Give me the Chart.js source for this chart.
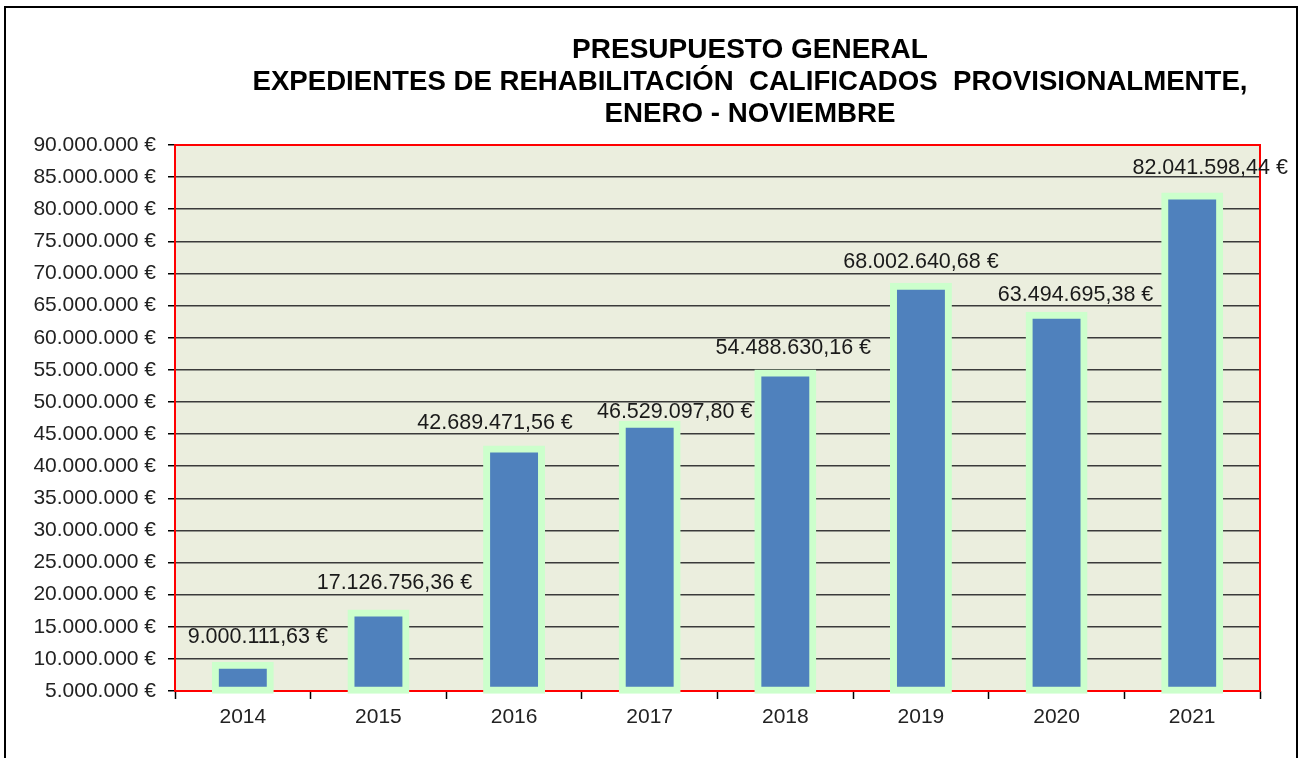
<!DOCTYPE html>
<html>
<head>
<meta charset="utf-8">
<script src="https://cdn.jsdelivr.net/npm/chart.js@4/dist/chart.umd.min.js"></script>
<style>
  html, body { margin: 0; padding: 0; background: #fff; overflow: hidden; }
  #wrap { position: relative; width: 1304px; height: 758px; }
  #frame { position: absolute; left: 4px; top: 6px; width: 1294px; height: 820px; border: 2px solid #000; box-sizing: border-box; }
  canvas { position: absolute; left: 0; top: 0; }
</style>
</head>
<body>
<div id="wrap">
  <div id="frame"></div>
  <canvas id="c" width="1304" height="758"></canvas>
</div>
<script>
// ---- data ----
const years = ['2014', '2015', '2016', '2017', '2018', '2019', '2020', '2021'];
const budget = [9000111.63, 17126756.36, 42689471.56, 46529097.80, 54488630.16, 68002640.68, 63494695.38, 82041598.44];
const titleLines = ['PRESUPUESTO GENERAL', 'EXPEDIENTES DE REHABILITACIÓN  CALIFICADOS  PROVISIONALMENTE,', 'ENERO - NOVIEMBRE'];
const yMin = 5000000, yMax = 90000000, yStep = 5000000;

// label placement tweaks (layout only), in px relative to bar top
const labelShift = [[15, 28], [16, 30], [-19, 26], [25, 12], [8, 25], [0, 24], [19, 20], [18, 28]];

function groupDots(n) {
  return String(n).replace(/\B(?=(\d{3})+(?!\d))/g, '.');
}
function euroInt(v) { return groupDots(Math.round(v)) + ' €'; }
function euroDec(v) {
  const cents = Math.round(v * 100);
  const ip = Math.floor(cents / 100);
  const dp = String(cents % 100).padStart(2, '0');
  return groupDots(ip) + ',' + dp + ' €';
}

const FONT = "'Liberation Sans', Arial, sans-serif";

const framePlugin = {
  id: 'framePlugin',
  beforeDraw(chart) {
    const { ctx, chartArea: a } = chart;
    ctx.save();
    ctx.fillStyle = '#EBEEDE';
    ctx.fillRect(a.left, a.top, a.right - a.left, a.bottom - a.top);
    ctx.restore();
    // title
    ctx.save();
    ctx.fillStyle = '#000';
    ctx.font = 'bold 28px ' + FONT;
    ctx.textAlign = 'center';
    ctx.textBaseline = 'alphabetic';
    const widths = [356, 995, 291];
    const bases = [58, 90, 122];
    titleLines.forEach((t, i) => {
      ctx.fillText(t, 750, bases[i], widths[i]);
    });
    ctx.restore();
  },
  beforeDatasetsDraw(chart) {
    const { ctx, chartArea: a } = chart;
    ctx.save();
    ctx.strokeStyle = '#FF0000';
    ctx.lineWidth = 2;
    ctx.strokeRect(a.left, a.top, a.right - a.left, a.bottom - a.top);
    ctx.restore();
  },
  afterDatasetsDraw(chart) {
    const { ctx } = chart;
    const meta = chart.getDatasetMeta(0);
    ctx.save();
    ctx.fillStyle = '#1a1a1a';
    ctx.font = '21.5px ' + FONT;
    ctx.textAlign = 'center';
    ctx.textBaseline = 'middle';
    meta.data.forEach((bar, i) => {
      const s = labelShift[i];
      ctx.fillText(euroDec(budget[i]), bar.x + s[0], bar.y - s[1]);
    });
    ctx.restore();
  }
};

new Chart(document.getElementById('c'), {
  type: 'bar',
  data: {
    labels: years,
    datasets: [{
      data: budget,
      base: yMin,
      backgroundColor: '#4F81BD',
      borderColor: '#CCFFCC',
      borderWidth: 7,
      borderSkipped: false,
      inflateAmount: 3.5,
      barPercentage: 0.405,
      categoryPercentage: 1,
      clip: 4
    }]
  },
  options: {
    responsive: false,
    animation: false,
    devicePixelRatio: 1,
    layout: { padding: { left: 0, top: 145, right: 44, bottom: 7 } },
    plugins: { legend: { display: false }, tooltip: { enabled: false }, title: { display: false } },
    scales: {
      x: {
        offset: true,
        grid: { display: true, drawOnChartArea: false, drawTicks: true, tickLength: 8, tickColor: '#000', offset: true, tickWidth: 1.5 },
        border: { display: false },
        ticks: { color: '#222', font: { family: FONT, size: 21 }, padding: 6, maxRotation: 0 },
        afterFit(s) { s.height = 60; }
      },
      y: {
        min: yMin, max: yMax,
        grid: { color: '#3a3a3a', lineWidth: 1.5, tickLength: 7, tickColor: '#000', tickWidth: 1.5 },
        border: { display: false },
        ticks: { stepSize: yStep, color: '#222', font: { family: FONT, size: 21 }, padding: 12, callback: v => euroInt(v) },
        afterFit(s) { s.width = 175; }
      }
    }
  },
  plugins: [framePlugin]
});
</script>
</body>
</html>
